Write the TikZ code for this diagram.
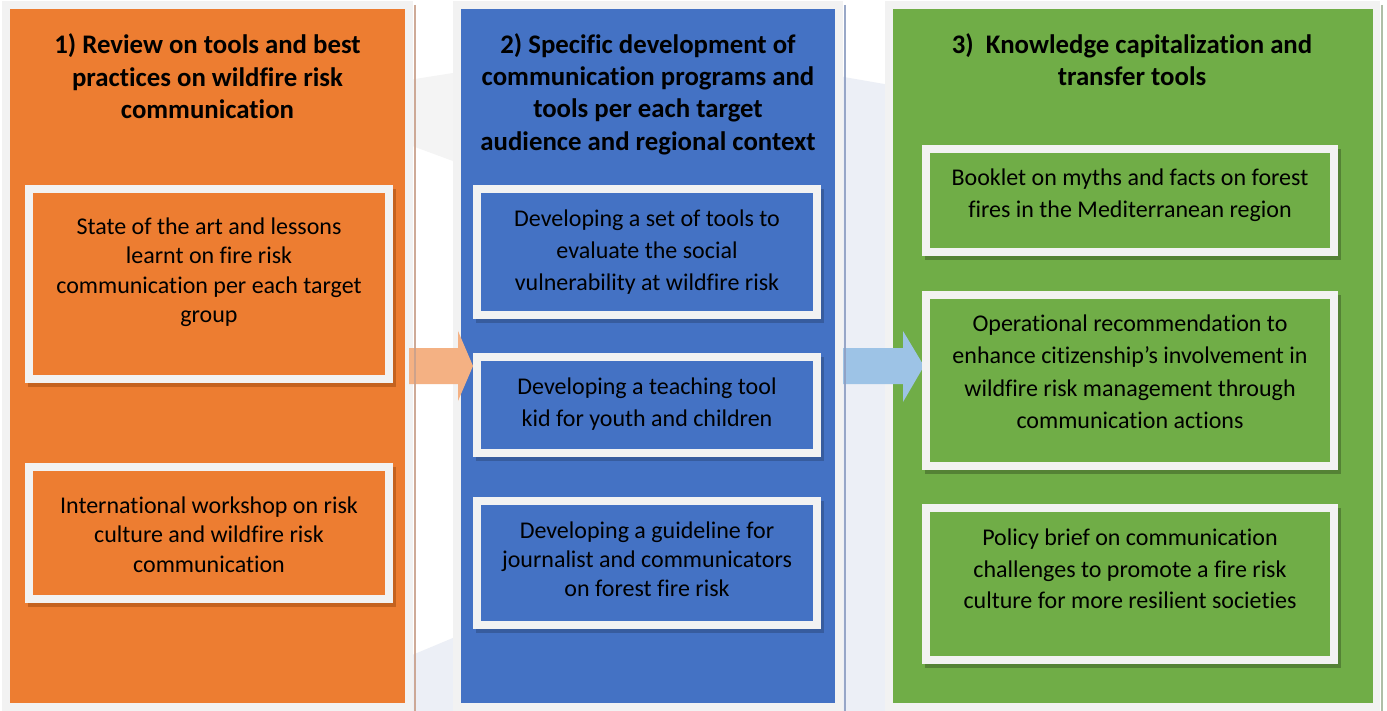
\documentclass[tikz,border=0pt]{standalone}
\usepackage{fontspec}
\setmainfont{Carlito}[Ligatures={TeX,NoCommon}]
\definecolor{orng}{HTML}{ED7D31}
\definecolor{blu}{HTML}{4472C4}
\definecolor{grn}{HTML}{70AD47}
\definecolor{frm}{HTML}{F2F2F2}
\definecolor{orsh}{HTML}{C4621F}
\definecolor{blsh}{HTML}{375C9E}
\definecolor{grsh}{HTML}{548235}
\definecolor{arrA}{HTML}{F4B183}
\definecolor{arrB}{HTML}{9DC3E6}
\definecolor{bggray}{HTML}{F4F4F4}
\definecolor{bgblue}{HTML}{ECEFF6}
\definecolor{colshA}{HTML}{C9A18C}
\definecolor{colshB}{HTML}{8E9FC2}
\definecolor{colshC}{HTML}{A6B79E}
\newcommand\wbox[6]{%
  \fill[#6] (#1+3,#2+4) rectangle (#3+3,#4+4);
  \fill[frm] (#1,#2) rectangle (#3,#4);
  \fill[#5] (#1+8,#2+8) rectangle (#3-8,#4-8);}
\tikzset{
  titletxt/.style={align=center, inner sep=0pt, text=black,
    font=\fontsize{26.8}{32.3}\selectfont\bfseries,
    execute at begin node=\strut, execute at end node=\strut},
  bodytxt/.style={align=center, inner sep=0pt, text=black,
    font=\fontsize{24}{#1}\selectfont,
    execute at begin node=\strut, execute at end node=\strut},
  bodytxt/.default=29.5
}
\begin{document}
\begin{tikzpicture}[x=1pt,y=-1pt]
\useasboundingbox (0,0) rectangle (1387,711);
\fill[white] (0,0) rectangle (1387,711);
% faint background shapes
\fill[bggray] (405,80.6) -- (460,71.9) -- (460,163.6) -- (405,143.3) -- cycle;
\fill[bgblue] (405,658) -- (460,635) -- (838,76) -- (890,85) -- (890,711) -- (405,711) -- cycle;
% columns
\fill[frm] (2,1) rectangle (413,711);
\fill[orng] (10,9) rectangle (405,703);
\fill[frm] (453,1) rectangle (843,711);
\fill[blu] (461,9) rectangle (835,703);
\fill[frm] (885,1) rectangle (1380,711);
\fill[grn] (893,9) rectangle (1373,703);
% block arrows
\fill[arrA] (409,348) -- (458,348) -- (458,331) -- (473,366) -- (458,401) -- (458,384) -- (409,384) -- cycle;
\fill[arrB] (843,348) -- (903,348) -- (903,331) -- (924,366) -- (903,402) -- (903,384) -- (843,384) -- cycle;
% column shadows
\draw[line width=2.5pt, colshA, opacity=0.9] (415,5) -- (415,711);
\draw[line width=2.5pt, colshB, opacity=0.9] (845,5) -- (845,711);
\draw[line width=2.5pt, colshC, opacity=0.9] (1382,5) -- (1382,711);
% boxes
\wbox{25}{185}{393}{383}{orng}{orsh}
\wbox{25}{463}{393}{603}{orng}{orsh}
\wbox{473}{185}{821}{319}{blu}{blsh}
\wbox{473}{353}{821}{457}{blu}{blsh}
\wbox{473}{497}{821}{629}{blu}{blsh}
\wbox{922}{145}{1338}{256}{grn}{grsh}
\wbox{922}{291}{1338}{470}{grn}{grsh}
\wbox{922}{504}{1338}{664}{grn}{grsh}
% titles
\node[titletxt] (t1) at (207.5,81) {1) Review on tools and best\\practices on wildfire risk\\communication};
\node[titletxt] (t2) at (648,96.5) {2) Specific development of\\communication programs and\\tools per each target\\audience and regional context};
\node[titletxt] (t3) at (1132,64.5) {3)~~Knowledge capitalization and\\transfer tools};
% texts
\node[bodytxt] (a1) at (209,274.5) {State of the art and lessons\\learnt on fire risk\\communication per each target\\group};
\node[bodytxt] (a2) at (209,539) {International workshop on risk\\culture and wildfire risk\\communication};
\node[bodytxt=32] (b1) at (647,254.5) {Developing a set of tools to\\evaluate the social\\vulnerability at wildfire risk};
\node[bodytxt=32] (b2) at (647,406.5) {Developing a teaching tool\\kid for youth and children};
\node[bodytxt=29] (b3) at (647,563.5) {Developing a guideline for\\journalist and communicators\\on forest fire risk};
\node[bodytxt=32] (c1) at (1130,197.5) {Booklet on myths and facts on forest\\fires in the Mediterranean region};
\node[bodytxt=32.5] (c2) at (1130,376.5) {Operational recommendation to\\enhance citizenship’s involvement in\\wildfire risk management through\\communication actions};
\node[bodytxt=31.6] (c3) at (1130,573.5) {Policy brief on communication\\challenges to promote a fire risk\\culture for more resilient societies};
\end{tikzpicture}
\end{document}
